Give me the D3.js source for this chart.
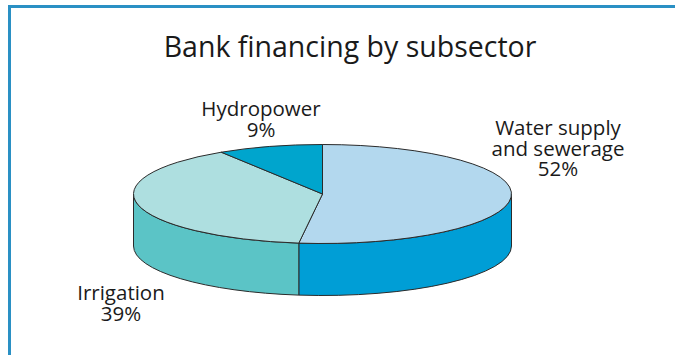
<!DOCTYPE html>
<html>
<head>
<meta charset="utf-8">
<script src="https://cdn.jsdelivr.net/npm/d3@7"></script>
<style>
html,body{margin:0;padding:0;background:#fff;}
svg{display:block;}
text{font-family:"Open Sans",sans-serif;fill:#1a1a1a;}
</style>
</head>
<body>
<svg id="chart" width="675" height="355"></svg>
<script>
const title = "Bank financing by subsector";
const categories = ["Water supply and sewerage", "Irrigation", "Hydropower"];
const values = [52, 39, 9];
const labelLines = [["Water supply", "and sewerage", "52%"], ["Irrigation", "39%"], ["Hydropower", "9%"]];
const topColors = ["#b3d8ee", "#aedfe0", "#00a5cd"];
const sideColors = ["#009ed6", "#5bc4c6", "#0089b0"];

const svg = d3.select("#chart");
const W = 675, H = 355;

// frame
svg.append("path")
  .attr("d", `M9.5,${H} L9.5,6.5 L${W},6.5`)
  .attr("fill", "none").attr("stroke", "#2a90c4").attr("stroke-width", 3);

svg.append("text").attr("x", 350).attr("y", 57)
  .attr("text-anchor", "middle").attr("font-size", 28.5).text(title);

const cx = 322.5, cy = 194, rx = 189, ry = 49.5, depth = 52;
const px = a => cx + rx * Math.sin(a);
const py = a => cy - ry * Math.cos(a);

const pie = d3.pie().sort(null).value(d => d.v);
const arcs = pie(categories.map((c, i) => ({c, v: values[i], i})));

const g = svg.append("g");

// sides
arcs.forEach(d => {
  const s = Math.max(d.startAngle, Math.PI / 2), e = Math.min(d.endAngle, 3 * Math.PI / 2);
  if (e <= s) return;
  const large = (e - s) > Math.PI ? 1 : 0;
  const dstr = `M${px(s)},${py(s)} A${rx},${ry} 0 ${large} 1 ${px(e)},${py(e)} ` +
    `L${px(e)},${py(e) + depth} A${rx},${ry} 0 ${large} 0 ${px(s)},${py(s) + depth} Z`;
  g.append("path").attr("d", dstr)
    .attr("fill", sideColors[d.data.i]).attr("stroke", "#2b2b2b").attr("stroke-width", 1)
    .attr("stroke-linejoin", "round");
});

// tops
arcs.forEach(d => {
  const s = d.startAngle, e = d.endAngle;
  const large = (e - s) > Math.PI ? 1 : 0;
  const dstr = `M${cx},${cy} L${px(s)},${py(s)} A${rx},${ry} 0 ${large} 1 ${px(e)},${py(e)} Z`;
  g.append("path").attr("d", dstr)
    .attr("fill", topColors[d.data.i]).attr("stroke", "#2b2b2b").attr("stroke-width", 1)
    .attr("stroke-linejoin", "round");
});

// labels
const labelPos = [[558, 135], [121, 300], [261, 116]];
labelLines.forEach((lines, i) => {
  lines.forEach((ln, j) => {
    svg.append("text").attr("text-anchor", "middle").attr("font-size", 20.5)
      .attr("x", labelPos[i][0]).attr("y", labelPos[i][1] + j * 20.5).text(ln);
  });
});
</script>
</body>
</html>
